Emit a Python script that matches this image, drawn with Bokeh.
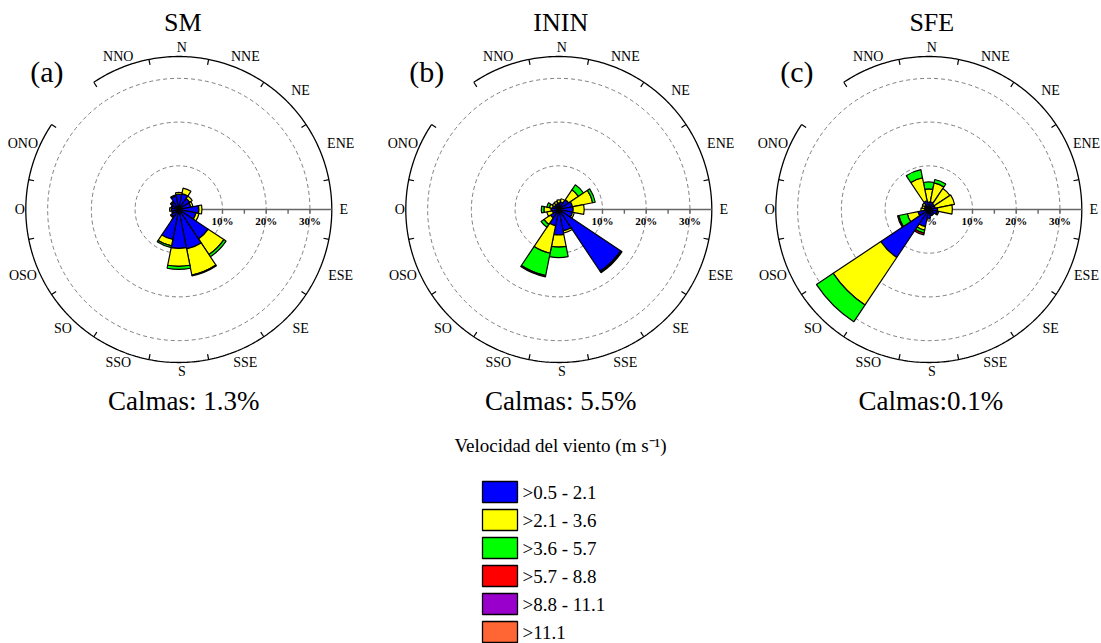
import numpy as np
from bokeh.plotting import figure
from bokeh.models import Range1d, ColumnDataSource
from bokeh.layouts import column, row
from bokeh.embed import file_html
from bokeh.resources import INLINE
from bokeh.core.properties import value

# ---- data -------------------------------------------------------------
directions = ["N", "NNE", "NE", "ENE", "E", "ESE", "SE", "SSE",
              "S", "SSO", "SO", "OSO", "O", "ONO", "NO", "NNO"]
speed_classes = [">0.5 - 2.1", ">2.1 - 3.6", ">3.6 - 5.7",
                 ">5.7 - 8.8", ">8.8 - 11.1", ">11.1"]
class_colors = ["#0000FF", "#FFFF00", "#00FF00", "#FF0000", "#9900CC", "#FF6633"]

# frequency (%) of each speed class per direction, N clockwise to NNO
sm_c1 = [3.5, 3.7, 3.0, 2.8, 4.6, 4.0, 8.1, 9.2, 8.9, 7.0, 2.0, 1.5, 1.7, 1.6, 2.0, 3.1]
sm_c2 = [0.4, 1.3, 0.7, 0.5, 0.7, 0.7, 4.3, 6.1, 4.1, 1.5, 0.3, 0.2, 0.4, 0.2, 0.3, 0.3]
sm_c3 = [0, 0, 0, 0, 0, 0, 0.6, 0.2, 0.7, 0.4, 0, 0, 0, 0, 0, 0]
sm_c4 = [0] * 16
sm_c5 = [0] * 16
sm_c6 = [0] * 16

inin_c1 = [1.5, 1.8, 2.7, 3.2, 3.3, 3.2, 17.0, 5.0, 5.8, 3.8, 2.3, 1.5, 1.8, 1.5, 1.2, 1.3]
inin_c2 = [0.7, 0.7, 2.7, 4.7, 2.5, 0.4, 0.2, 0.5, 2.8, 6.4, 1.8, 1.3, 1.6, 0.7, 0.6, 0.6]
inin_c3 = [0, 0, 1.4, 0.6, 0, 0, 0.2, 0, 2.4, 5.2, 0.8, 0, 0.6, 0.6, 0, 0]
inin_c4 = [0, 0, 0, 0, 0, 0, 0, 0, 0, 0.3, 0, 0, 0, 0, 0, 0]
inin_c5 = [0] * 16
inin_c6 = [0] * 16

sfe_c1 = [1.7, 1.8, 1.5, 1.5, 2.0, 2.0, 1.5, 1.5, 2.0, 4.0, 13.2, 2.5, 1.0, 1.0, 1.2, 2.0]
sfe_c2 = [3.0, 4.4, 4.3, 4.5, 3.4, 0.3, 0, 0, 0, 0.8, 13.1, 2.5, 0.8, 0.6, 0.6, 5.4]
sfe_c3 = [1.6, 0.8, 0, 0, 0, 0, 0, 0, 0, 0.7, 4.6, 2.0, 0, 0, 0, 1.9]
sfe_c4 = [0, 0, 0, 0, 0, 0, 0, 0, 0, 0.4, 0, 0.3, 0, 0, 0, 0]
sfe_c5 = [0] * 16
sfe_c6 = [0] * 16

site_names = ["SM", "ININ", "SFE"]
panel_letters = ["(a)", "(b)", "(c)"]
calm_labels = ["Calmas: 1.3%", "Calmas: 5.5%", "Calmas:0.1%"]
radial_ticks = [0, 10, 20, 30]
radial_tick_labels = ["0%", "10%", "20%", "30%"]

sites = [
    [sm_c1, sm_c2, sm_c3, sm_c4, sm_c5, sm_c6],
    [inin_c1, inin_c2, inin_c3, inin_c4, inin_c5, inin_c6],
    [sfe_c1, sfe_c2, sfe_c3, sfe_c4, sfe_c5, sfe_c6],
]

# ---- layout constants -------------------------------------------------
SERIF = value("Liberation Serif")
R_MAX = 35.0            # outer circle (%)
K = 153.0 / R_MAX       # pixels per percent
ROW_H = 425
CY = 209
panel_widths = [368, 375, 358]
panel_cx = [178.3, 190.3, 185.3]
title_dx = [4, 2, 3]
calm_dx = [5, 2, 2]
LABEL_DX = 3.0          # px


def polar(r, compass_deg):
    t = np.radians(compass_deg)
    return r * np.sin(t), r * np.cos(t)


def label_radius(name, ang):
    """Pixel distance of a compass label from the rose centre."""
    if len(name) == 1:
        return 162.0
    if len(name) == 2:
        return 168.0
    return 172.0 if abs(np.sin(np.radians(ang))) > 0.9 else 166.0


def rose(width, cx, classes, name, letter, calm, tdx, cdx):
    p = figure(width=width, height=ROW_H,
               x_range=Range1d(-cx / K, (width - cx) / K),
               y_range=Range1d(-(ROW_H - CY) / K, CY / K),
               output_backend="svg", toolbar_location=None, tools="",
               x_axis_location=None, y_axis_location=None,
               min_border=0, outline_line_color=None,
               background_fill_color="white", border_fill_color="white")
    p.xgrid.visible = False
    p.ygrid.visible = False

    # dashed reference rings
    p.circle(x=[0, 0, 0], y=[0, 0, 0], radius=[10, 20, 30], fill_color=None,
             line_color="#7f7f7f", line_dash="4 3", line_width=1)

    # outer circle, open over the NO sector
    a = np.linspace(326.25, 303.75 + 360, 400)
    ox, oy = polar(R_MAX, a)
    p.line(ox, oy, line_color="black", line_width=1.3)
    tick_dirs = np.arange(16) * 22.5 + 11.25
    tx0, ty0 = polar(R_MAX, tick_dirs)
    tx1, ty1 = polar(R_MAX - 1.25, tick_dirs)
    p.segment(tx0, ty0, tx1, ty1, line_color="black", line_width=1.2)

    # radial scale along E
    p.segment([0], [0], [R_MAX], [0], line_color="#666666", line_width=1.6)
    st = np.arange(5, 31, 5)
    p.segment(st, np.zeros_like(st), st, np.full(len(st), -1.0),
              line_color="#666666", line_width=1.4)
    p.text(x=radial_ticks, y=[-2.6] * len(radial_ticks), text=radial_tick_labels,
           text_font=SERIF, text_font_style="bold", text_font_size="11px",
           text_align="center", text_baseline="middle", text_color="black")

    # stacked petals
    inner, outer, start, end, color = [], [], [], [], []
    for i in range(len(directions)):
        base = 0.0
        phi = 90.0 - 22.5 * i
        for c, vals in enumerate(classes):
            v = vals[i]
            if v <= 0:
                continue
            inner.append(base)
            outer.append(base + v)
            start.append(np.radians(phi - 11.25))
            end.append(np.radians(phi + 11.25))
            color.append(class_colors[c])
            base += v
    src = ColumnDataSource(dict(inner=inner, outer=outer, start=start, end=end, color=color))
    p.annular_wedge(x=0, y=0, inner_radius="inner", outer_radius="outer",
                    start_angle="start", end_angle="end", source=src,
                    fill_color="color", line_color="black", line_width=1.2)

    # compass labels (NO sits under the panel letter); keep them inside the frame
    labs = [d for d in directions if d != "NO"]
    angs = np.array([22.5 * directions.index(d) for d in labs])
    rads = np.array([label_radius(d, a_) for d, a_ in zip(labs, angs)])
    half_w = np.array([5.0 * len(d) for d in labs])
    lx_px, ly_px = polar(rads, angs)
    lx_px = np.minimum(lx_px + LABEL_DX, width - cx - half_w)
    p.text(x=lx_px / K, y=ly_px / K, text=labs, text_font=SERIF, text_font_size="14px",
           text_align="center", text_baseline="middle", text_color="black")

    p.text(x=[tdx / K], y=[(CY - 22) / K], text=[name], text_font=SERIF,
           text_font_size="26px", text_align="center", text_baseline="middle",
           text_color="black")
    p.text(x=[-132 / K], y=[(CY - 71) / K], text=[letter], text_font=SERIF,
           text_font_size="30px", text_align="center", text_baseline="middle",
           text_color="black")
    p.text(x=[cdx / K], y=[(CY - 400) / K], text=[calm], text_font=SERIF,
           text_font_size="27px", text_align="center", text_baseline="middle",
           text_color="black")
    return p


panels = [rose(panel_widths[j], panel_cx[j], sites[j], site_names[j],
               panel_letters[j], calm_labels[j], title_dx[j], calm_dx[j])
          for j in range(3)]

# ---- legend -----------------------------------------------------------
leg = figure(width=1101, height=643 - ROW_H,
             x_range=Range1d(0, 1101), y_range=Range1d(643, ROW_H),
             output_backend="svg", toolbar_location=None, tools="",
             x_axis_location=None, y_axis_location=None,
             min_border=0, outline_line_color=None)
leg.xgrid.visible = False
leg.ygrid.visible = False
n = len(speed_classes)
tops = [481 + 28 * i for i in range(n)]
leg.quad(left=[482] * n, right=[517] * n, top=tops, bottom=[t + 21 for t in tops],
         fill_color=class_colors, line_color="black", line_width=1.3)
leg.text(x=[522] * n, y=[t + 10.5 for t in tops], text=speed_classes,
         text_font=SERIF, text_font_size="19px", text_align="left",
         text_baseline="middle", text_color="black")
leg.text(x=[560], y=[445], text=["Velocidad del viento (m s\u207b\u00b9)"],
         text_font=SERIF, text_font_size="19px", text_align="center",
         text_baseline="middle", text_color="black")

layout = column(row(*panels), leg)
open("out.html", "w").write(file_html(layout, INLINE))
